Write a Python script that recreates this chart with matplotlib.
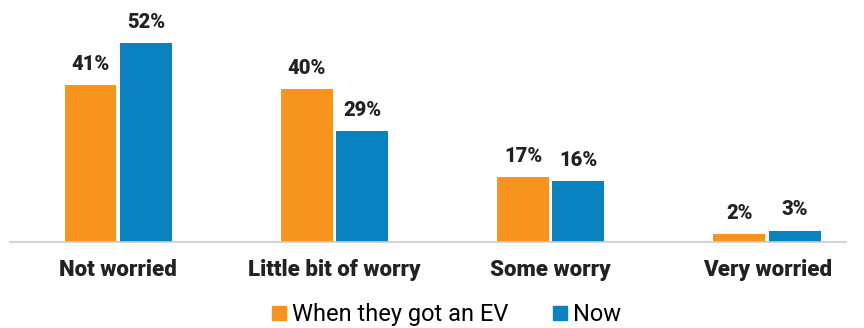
import numpy as np
import matplotlib.pyplot as plt

categories = ['Not worried', 'Little bit of worry', 'Some worry', 'Very worried']
when_got_ev = [41, 40, 17, 2]
now = [52, 29, 16, 3]
series_names = ['When they got an EV', 'Now']

orange = '#F7941D'
blue = '#0A82BF'

plt.rcParams['font.family'] = ['Roboto', 'DejaVu Sans']

fig = plt.figure(figsize=(8.64, 3.28), dpi=100)
ax = fig.add_axes([10 / 864, 1 - 242 / 328, 836 / 864, 230 / 328])

x = np.arange(len(categories))
w = 0.24
off = 0.128
b1 = ax.bar(x - off, when_got_ev, w, color=orange, label=series_names[0])
b2 = ax.bar(x + off, now, w, color=blue, label=series_names[1])

# value labels above the bars
for bars, vals in [(b1, when_got_ev), (b2, now)]:
    for bar, v in zip(bars, vals):
        ax.annotate('{}%'.format(v), (bar.get_x() + bar.get_width() / 2, v),
                    xytext=(0, 8), textcoords='offset points',
                    ha='center', va='bottom', fontsize=14.5, fontweight='black',
                    color='#222222')

ax.set_xlim(-0.5, 3.365)
ax.set_ylim(0, 60)
ax.set_xticks(x)
ax.set_xticklabels(categories, fontsize=16, fontweight='black', color='#222222')
ax.tick_params(axis='x', length=0, pad=12)
ax.set_yticks([])
for s in ['top', 'right', 'left']:
    ax.spines[s].set_visible(False)
ax.spines['bottom'].set_color('#cccccc')
ax.spines['bottom'].set_linewidth(1.2)

# legend with small square markers
handles = [plt.Line2D([], [], marker='s', linestyle='', markersize=10, color=c)
           for c in (orange, blue)]
fig.legend(handles, series_names, loc='lower center', bbox_to_anchor=(0.515, -0.06),
           ncol=2, frameon=False, fontsize=17, handletextpad=0.15,
           columnspacing=1.8, handlelength=0.8)

fig.savefig('out.png', dpi=100)
